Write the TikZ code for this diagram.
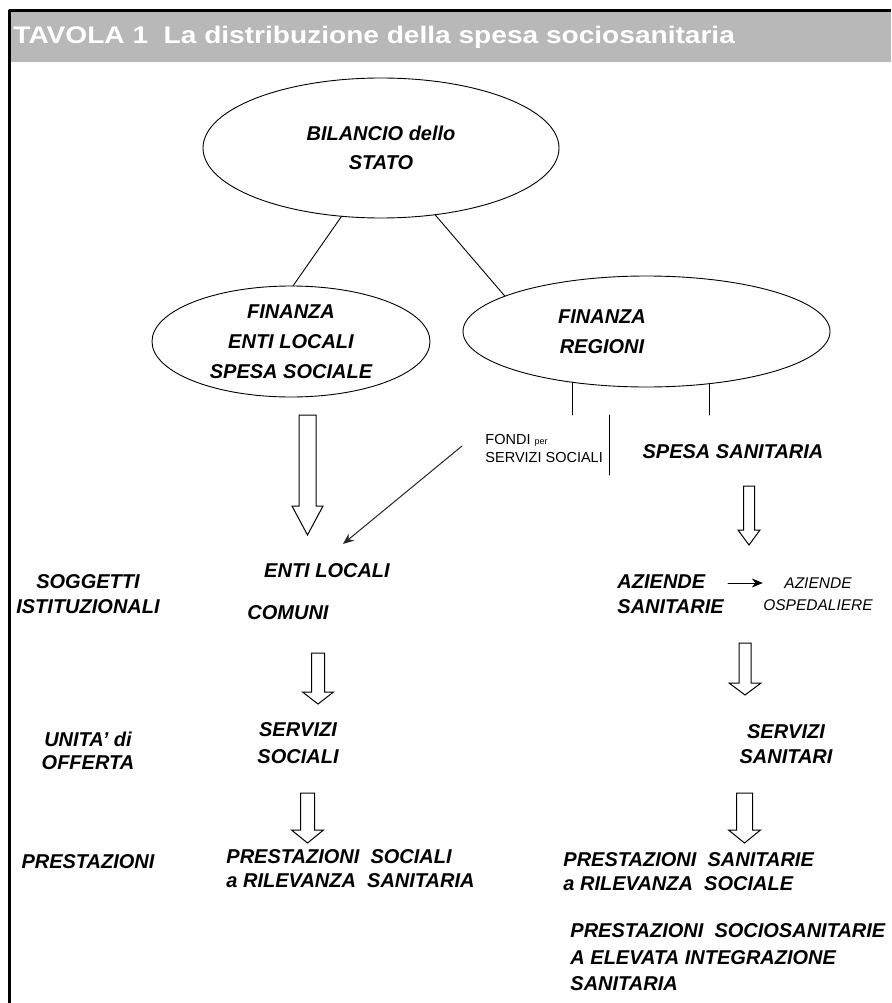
\documentclass[tikz,border=0pt]{standalone}
\usepackage{fontspec}
\setmainfont{Liberation Sans}
\usetikzlibrary{shapes.geometric,arrows.meta}

% hollow block arrow: x, top, neck, tip, half shaft, half head
\newcommand{\blockarrow}[6]{%
  \draw[blk] ({#1-#5},#2) -- ({#1+#5},#2) -- ({#1+#5},#3) -- ({#1+#6},#3)
    -- (#1,#4) -- ({#1-#6},#3) -- ({#1-#5},#3) -- cycle;}

\begin{document}
\begin{tikzpicture}[x=1pt, y=-1pt, line width=0.9pt, line cap=round, line join=round,
  oval/.style={draw, ellipse, inner sep=0pt, outer sep=0pt},
  lbl/.style={inner sep=0pt, align=center, font=\fontsize{20}{#1}\selectfont\bfseries\itshape},
  lbl/.default=25,
  thin/.style={inner sep=0pt, align=left, font=\fontsize{14.5}{#1}\selectfont},
  thin/.default=18,
  blk/.style={draw, line width=1pt, line join=miter},
  tip/.style={-{Stealth[length=11pt,width=9pt]}, line width=1pt}]

  %% frame and header
  \fill[black!28] (8,12) rectangle (891,62);
  \draw[line width=3pt, line cap=butt] (9,1003) -- (9,11) -- (891,11);
  \node[anchor=west, inner sep=0pt, text=white, font=\fontsize{24}{24}\selectfont\bfseries] (title) at (13,37)
    {\scalebox{1.17}[1]{TAVOLA 1\ \ La distribuzione della spesa sociosanitaria}};

  %% ellipses
  \node[oval, lbl=29, minimum width=356, minimum height=140] (bilancio) at (381,148) {BILANCIO dello\\STATO};
  \node[oval, lbl=30, minimum width=278, minimum height=111] (finloc) at (291,341.5) {FINANZA\\ENTI LOCALI\\SPESA SOCIALE};
  \node[oval, minimum width=367, minimum height=111] (finreg) at (646.5,331.5) {};
  \node[lbl=30] (regioni) at (602,332) {FINANZA\\REGIONI};

  \draw (bilancio.240) -- (finloc.88);
  \draw (bilancio.309) -- (finreg.166);

  %% split of regional money
  \coordinate (fondicut) at (572,415);
  \coordinate (spesacut) at (709,415);
  \draw (fondicut) -- (fondicut |- finreg.214);
  \draw (spesacut) -- (spesacut |- finreg.320);
  \node[thin, anchor=west] (fondi) at (485,449) {FONDI {\fontsize{9}{9}\selectfont per}\\SERVIZI SOCIALI};
  \draw (609,415) -- (609,475);
  \node[lbl] (spesa) at (733,452) {SPESA SANITARIA};

  %% row labels
  \node[lbl] (soggetti) at (88,594) {SOGGETTI\\ISTITUZIONALI};
  \node[lbl=23] (unita) at (88,751) {UNITA' di\\OFFERTA};
  \node[lbl] (prest) at (88,862) {PRESTAZIONI};

  %% social side
  \blockarrow{307.5}{415}{506}{535}{8.5}{15.5}
  \node[lbl] (entiloc) at (327,571) {ENTI LOCALI};
  \node[lbl] (comuni) at (288,613) {COMUNI};
  \coordinate (fondistart) at (462,446);
  \coordinate (entitip) at (343,544);
  \draw[tip, black!85] (fondistart) -- (entitip);
  \blockarrow{318}{653}{692}{704}{6.5}{15.5}
  \node[lbl=27] (servsoc) at (298,743.5) {SERVIZI\\SOCIALI};
  \blockarrow{307.5}{793}{830}{843}{7}{16}
  \node[lbl=24, anchor=west, align=left] (prestsoc) at (226,869) {PRESTAZIONI\ \ SOCIALI\\a RILEVANZA\ \ SANITARIA};

  %% health side
  \blockarrow{749}{486}{530}{545}{5.5}{11}
  \node[lbl, anchor=west, align=left] (azsan) at (617,594.5) {AZIENDE\\SANITARIE};
  \node[thin=22, align=center, font=\fontsize{15.5}{22}\selectfont\itshape] (osped) at (818,594) {AZIENDE\\OSPEDALIERE};
  \coordinate (azarrow) at (728,583);
  \draw[tip] (azarrow) -- (azarrow -| osped.west);
  \blockarrow{745}{643}{683}{695}{6}{16}
  \node[lbl] (servsan) at (786,744.5) {SERVIZI\\SANITARI};
  \blockarrow{744.5}{793}{830}{843}{8}{16}
  \node[lbl=24, anchor=west, align=left] (prestsan) at (563,872) {PRESTAZIONI\ \ SANITARIE\\a RILEVANZA\ \ SOCIALE};
  \node[lbl=26.5, anchor=west, align=left] (prestint) at (570,957.5) {PRESTAZIONI\ \ SOCIOSANITARIE\\A ELEVATA INTEGRAZIONE\\SANITARIA};

  \pgfresetboundingbox
  \path[use as bounding box] (0,0) rectangle (891,1003);
\end{tikzpicture}
\end{document}
